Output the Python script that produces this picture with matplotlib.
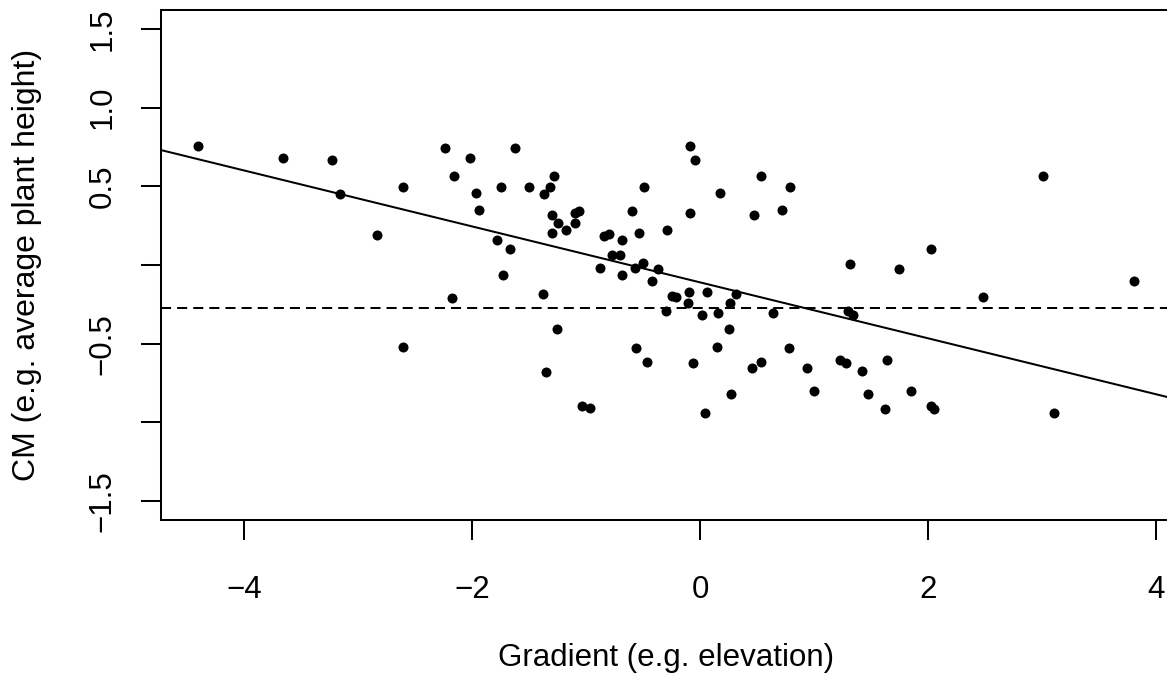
import matplotlib
matplotlib.use('Agg')
import matplotlib.pyplot as plt

# Gradient values (x) and community mean trait values (y)
gradient = [-4.40, -3.66, -3.23, -3.16, -2.61, -2.83, -2.24, -2.02, -2.16, -1.97,
            -1.94, -1.78, -2.18, -1.75, -1.73, -2.61, -1.62, -1.50, -1.37, -1.32,
            -1.28, -1.30, -1.25, -1.30, -1.18, -1.10, -1.06, -1.10, -1.67, -1.38,
            -0.88, -0.84, -0.80, -0.69, -0.77, -0.70, -0.69, -0.60, -0.54, -0.49,
            -0.57, -0.50, -0.37, -0.42, -0.29, -0.09, -0.05, -0.09, 0.17, 0.53,
            0.79, 0.47, 0.72, -0.25, -0.21, -0.10, -0.11, 0.06, -0.30, 0.02,
            0.16, 0.26, 0.31, 0.64, -1.26, -1.35, -1.04, -0.97, -0.56, -0.47,
            -0.06, 0.04, 0.15, 0.25, 0.27, 0.45, 0.53, 0.78, 0.94, 1.00,
            1.31, 1.74, 2.02, 2.48, 3.01, 3.80, 1.30, 1.34, 1.23, 1.28,
            1.42, 1.64, 1.47, 1.62, 1.85, 2.02, 2.05, 3.10]
cm = [0.758, 0.678, 0.669, 0.453, 0.497, 0.193, 0.741, 0.678, 0.567, 0.459,
      0.349, 0.159, -0.208, 0.496, -0.065, -0.523, 0.741, 0.496, 0.453, 0.497,
      0.565, 0.318, 0.269, 0.201, 0.222, 0.328, 0.345, 0.269, 0.102, -0.184,
      -0.017, 0.184, 0.195, 0.159, 0.064, 0.064, -0.065, 0.345, 0.201, 0.497,
      -0.017, 0.011, -0.025, -0.104, 0.222, 0.758, 0.669, 0.332, 0.459, 0.565,
      0.496, 0.318, 0.349, -0.197, -0.205, -0.172, -0.243, -0.172, -0.290, -0.318,
      -0.303, -0.243, -0.184, -0.303, -0.407, -0.678, -0.896, -0.907, -0.529, -0.614,
      -0.623, -0.942, -0.523, -0.407, -0.818, -0.652, -0.614, -0.529, -0.652, -0.802,
      0.008, -0.027, 0.102, -0.201, 0.567, -0.102, -0.290, -0.320, -0.605, -0.623,
      -0.675, -0.605, -0.818, -0.915, -0.802, -0.896, -0.915, -0.942]

# Fitted regression line and the dashed reference level
fit_intercept = -0.1105
fit_slope = -0.1778
ref_level = -0.275

x_ticks = [-4, -2, 0, 2, 4]
x_tick_labels = ['\u22124', '\u22122', '0', '2', '4']
y_ticks = [-1.5, -1.0, -0.5, 0.0, 0.5, 1.0, 1.5]
y_tick_labels = ['\u22121.5', '', '\u22120.5', '', '0.5', '1.0', '1.5']

plt.rcParams['font.family'] = ['Liberation Sans', 'DejaVu Sans']
plt.rcParams['font.size'] = 22.5

fig = plt.figure(figsize=(11.67, 6.75), dpi=100)
ax = fig.add_axes([161 / 1167, 1 - 520 / 675, 1010 / 1167, 510 / 675])

ax.scatter(gradient, cm, s=52, color='black', linewidths=0, zorder=3)
ax.axline((0, fit_intercept), slope=fit_slope, color='black', lw=1.45)
ax.axhline(ref_level, color='black', lw=1.45, linestyle=(0, (5, 3)))

ax.set_xlim(-4.728, 4.128)
ax.set_ylim(-1.62, 1.62)

ax.set_xticks(x_ticks)
ax.set_xticklabels(x_tick_labels)
ax.set_yticks(y_ticks)
ax.set_yticklabels(y_tick_labels, rotation=90, va='center')

ax.tick_params(direction='out', length=14.4, width=1.45)
ax.tick_params(axis='x', pad=25)
ax.tick_params(axis='y', pad=17)
for s in ax.spines.values():
    s.set_linewidth(1.45)

# Axis titles placed like R's mtext lines
fig.text(666 / 1167, 9 / 675, 'Gradient (e.g. elevation)', ha='center', va='baseline')
fig.text(27 / 1167, 1 - 265 / 675, 'CM (e.g. average plant height)', ha='center', va='center',
         rotation=90, fontsize=23)

fig.savefig('out.png', dpi=100)
